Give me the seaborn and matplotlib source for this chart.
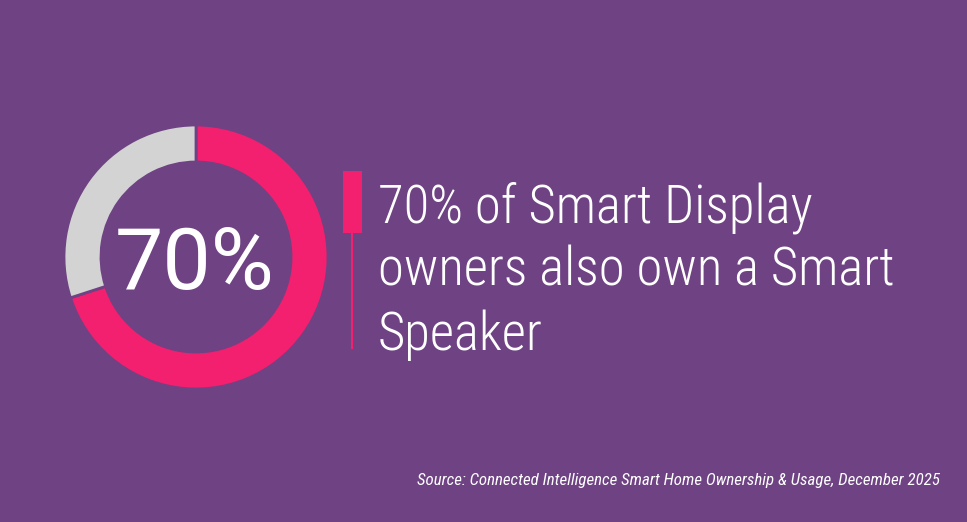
import matplotlib
matplotlib.use("Agg")
import matplotlib.pyplot as plt
import seaborn as sns
from matplotlib.patches import Rectangle
from matplotlib import font_manager as fm

# ---- data ----
segments = ["Own Smart Speaker", "Do not"]
shares = [70, 30]
big_label = "70%"
headline_lines = ["70% of Smart Display", "owners also own a Smart", "Speaker"]
source = "Source: Connected Intelligence Smart Home Ownership & Usage, December 2025"

BG = "#6e4283"
PINK = "#f2206f"
GRAY = "#d3d3d3"

sns.set_theme(style="white")
plt.rcParams["font.family"] = ["Roboto", "DejaVu Sans"]

names = {f.name for f in fm.fontManager.ttflist}
has_cond = "Roboto Condensed" in names

W, H = 967, 522
fig = plt.figure(figsize=(W / 100, H / 100), dpi=100, facecolor=BG)
ax = fig.add_axes([0, 0, 1, 1])
ax.set_facecolor(BG)

ax.pie(shares, colors=[PINK, GRAY], startangle=90, counterclock=False,
       center=(196, H - 257), radius=132,
       wedgeprops=dict(width=37, edgecolor=BG, linewidth=2))
ax.set_xlim(0, W)
ax.set_ylim(0, H)
ax.set_aspect("equal")
ax.axis("off")

ax.text(195, H - 289, big_label, ha="center", va="baseline", color="white",
        fontsize=62, fontweight="normal")

# accent bar
ax.add_patch(Rectangle((343, H - 233), 19, 62, facecolor=PINK, edgecolor="none"))
ax.plot([352, 352], [H - 233, H - 349], color=PINK, lw=1.5, solid_capstyle="butt")

if has_cond:
    hfam = ["Roboto Condensed", "DejaVu Sans"]
    hsize, hweight, ssize = 38, "light", 12.2
else:
    hfam = ["Roboto", "DejaVu Sans"]
    hsize, hweight, ssize = 35, "normal", 11

baselines = [222, 286, 350]
for line, yb in zip(headline_lines, baselines):
    ax.text(378, H - yb, line, ha="left", va="baseline", color="white",
            fontsize=hsize, fontweight=hweight, family=hfam)

ax.text(940, H - 481, source, ha="right", va="center", color="white",
        fontsize=ssize, style="italic", family=hfam)

fig.savefig("out.png", dpi=100, facecolor=BG)
